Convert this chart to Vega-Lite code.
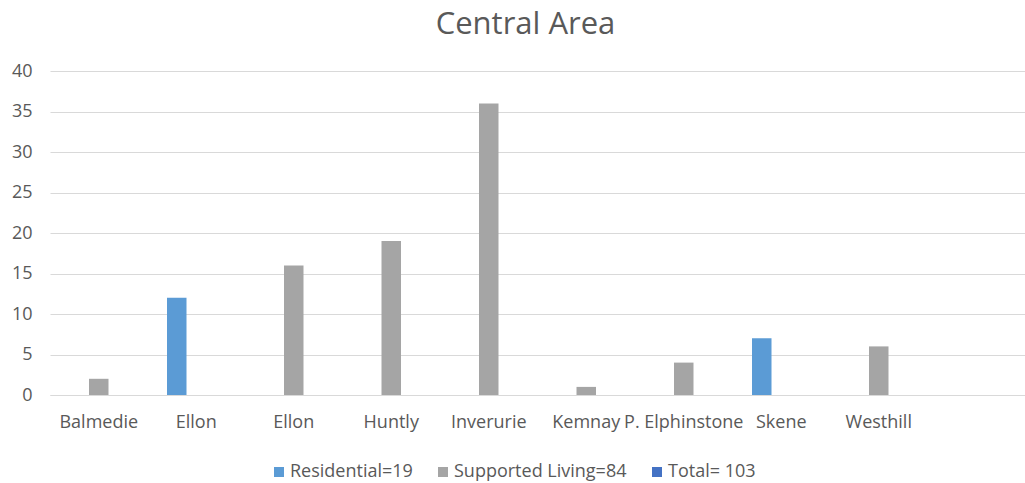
{
  "$schema": "https://vega.github.io/schema/vega-lite/v6.json",
  "autosize": {"type": "none"},
  "padding": {"left": 50, "top": 71, "right": 0, "bottom": 88},
  "width": 975,
  "height": 324,
  "background": "white",
  "title": {
    "text": "Central Area",
    "frame": "group",
    "anchor": "middle",
    "dx": -12,
    "offset": -3,
    "baseline": "alphabetic",
    "font": "Open Sans",
    "fontSize": 31,
    "fontWeight": "normal",
    "color": "#595959"
  },
  "data": {
    "values": [
      {"site": "Balmedie", "series": "Supported Living=84", "value": 2},
      {"site": "Ellon", "series": "Residential=19", "value": 12},
      {"site": "Ellon\u200b", "series": "Supported Living=84", "value": 16},
      {"site": "Huntly", "series": "Supported Living=84", "value": 19},
      {"site": "Inverurie", "series": "Supported Living=84", "value": 36},
      {"site": "Kemnay", "series": "Supported Living=84", "value": 1},
      {"site": "P. Elphinstone", "series": "Supported Living=84", "value": 4},
      {"site": "Skene", "series": "Residential=19", "value": 7},
      {"site": "Westhill", "series": "Supported Living=84", "value": 6}
    ]
  },
  "mark": {"type": "bar"},
  "encoding": {
    "x": {
      "field": "site",
      "type": "nominal",
      "title": null,
      "scale": {
        "domain": ["Balmedie", "Ellon", "Ellon\u200b", "Huntly", "Inverurie", "Kemnay", "P. Elphinstone", "Skene", "Westhill", " "],
        "paddingInner": 0,
        "paddingOuter": 0
      },
      "axis": {
        "labelAngle": 0,
        "labelOverlap": false,
        "labelLimit": 0,
        "labelPadding": 18,
        "labelFont": "Open Sans",
        "labelFontSize": 18,
        "labelColor": "#595959",
        "ticks": false,
        "domain": true,
        "domainColor": "#d9d9d9",
        "domainWidth": 1,
        "grid": false
      }
    },
    "xOffset": {
      "field": "series",
      "type": "nominal",
      "scale": {
        "domain": ["Residential=19", "Supported Living=84", "Total= 103"],
        "paddingInner": 0,
        "paddingOuter": 1
      }
    },
    "y": {
      "field": "value",
      "type": "quantitative",
      "title": null,
      "scale": {"domain": [0, 40], "nice": false},
      "axis": {
        "values": [0, 5, 10, 15, 20, 25, 30, 35, 40],
        "labelPadding": 18,
        "labelFont": "Open Sans",
        "labelFontSize": 18,
        "labelColor": "#595959",
        "ticks": false,
        "domain": false,
        "grid": true,
        "gridColor": "#d9d9d9",
        "gridWidth": 1
      }
    },
    "color": {
      "field": "series",
      "type": "nominal",
      "title": null,
      "scale": {
        "domain": ["Residential=19", "Supported Living=84", "Total= 103"],
        "range": ["#5b9bd5", "#a5a5a5", "#4472c4"]
      },
      "legend": {
        "orient": "none",
        "legendX": 220,
        "legendY": 392,
        "direction": "horizontal",
        "symbolType": "square",
        "symbolSize": 100,
        "symbolStrokeWidth": 0,
        "labelFont": "Open Sans",
        "labelFontSize": 18,
        "labelColor": "#595959",
        "labelOffset": 2,
        "labelLimit": 0,
        "columnPadding": 21,
        "padding": 0
      }
    }
  },
  "config": {
    "view": {"stroke": null}
  }
}
